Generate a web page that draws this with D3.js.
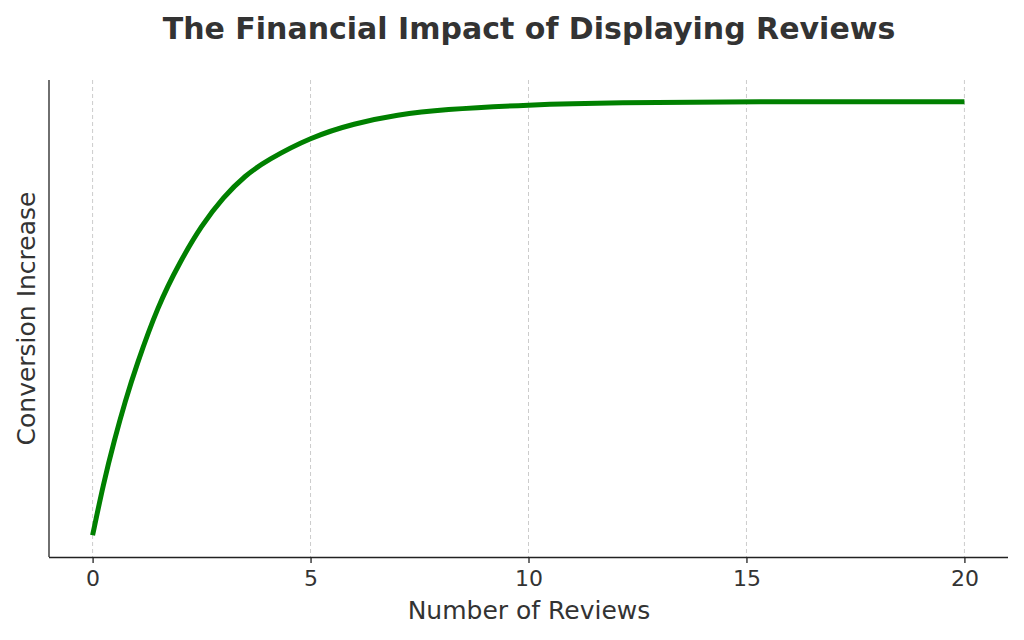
<!DOCTYPE html>
<meta charset="utf-8">
<style>
body { margin: 0; background: #fff; }
text { font-family: "DejaVu Sans", sans-serif; fill: #333; }
.grid line { stroke: #ccc; stroke-dasharray: 4,3; stroke-width: 1; }
.axis path, .axis line { stroke: #222; stroke-width: 1.3px; }
.axis text { font-size: 22px; fill: #333; }
.line { fill: none; stroke: #008000; stroke-width: 5px; }
</style>
<svg width="1024" height="640"></svg>
<script src="https://d3js.org/d3.v7.min.js"></script>
<script>
// (conversion increase normalised 0..1)
var reviews = [0, 0.25, 0.5, 0.75, 1, 1.5, 2, 2.5, 3, 3.5, 4, 5, 6, 7, 8, 10, 12, 15, 20];
var conversion = [0, 0.12, 0.22, 0.31, 0.39, 0.53, 0.63, 0.715, 0.78, 0.83, 0.865, 0.918, 0.95, 0.97, 0.982, 0.993, 0.998, 1.0, 1.0];
var xTicks = [0, 5, 10, 15, 20];

var data = reviews.map(function(r, i) { return {r: r, c: conversion[i]}; });

var svg = d3.select("svg"),
    margin = {top: 80, right: 16, bottom: 83, left: 49},
    width = +svg.attr("width") - margin.left - margin.right,
    height = +svg.attr("height") - margin.top - margin.bottom,
    g = svg.append("g").attr("transform", "translate(" + margin.left + "," + margin.top + ")");

var x = d3.scaleLinear().domain([-1, 21]).range([0, width]);
var y = d3.scaleLinear().domain([-0.05, 1.05]).range([height, 0]);

g.append("g")
    .attr("class", "grid")
    .selectAll("line")
    .data(xTicks)
  .enter().append("line")
    .attr("x1", function(d) { return x(d); })
    .attr("x2", function(d) { return x(d); })
    .attr("y1", 0)
    .attr("y2", height);

var line = d3.line()
    .curve(d3.curveBasis)
    .x(function(d) { return x(d.r); })
    .y(function(d) { return y(d.c); });

g.append("path")
    .datum(data)
    .attr("class", "line")
    .attr("d", line);

g.append("g")
    .attr("class", "axis")
    .attr("transform", "translate(0," + height + ")")
    .call(d3.axisBottom(x).tickValues(xTicks).tickSize(6).tickPadding(7).tickSizeOuter(0))
    .call(function(a) { a.select(".domain").attr("d", "M0,0.5H" + width); });

g.append("line")
    .attr("stroke", "#222").attr("stroke-width", 1.3)
    .attr("x1", 0).attr("x2", 0).attr("y1", 0).attr("y2", height);

svg.append("text")
    .attr("x", 529).attr("y", 39)
    .attr("text-anchor", "middle")
    .style("font-size", "30px")
    .style("font-weight", "bold")
    .text("The Financial Impact of Displaying Reviews");

svg.append("text")
    .attr("x", 529).attr("y", 619)
    .attr("text-anchor", "middle")
    .style("font-size", "25px")
    .text("Number of Reviews");

svg.append("text")
    .attr("transform", "translate(35," + (margin.top + height / 2) + ") rotate(-90)")
    .attr("text-anchor", "middle")
    .style("font-size", "25px")
    .text("Conversion Increase");
</script>
